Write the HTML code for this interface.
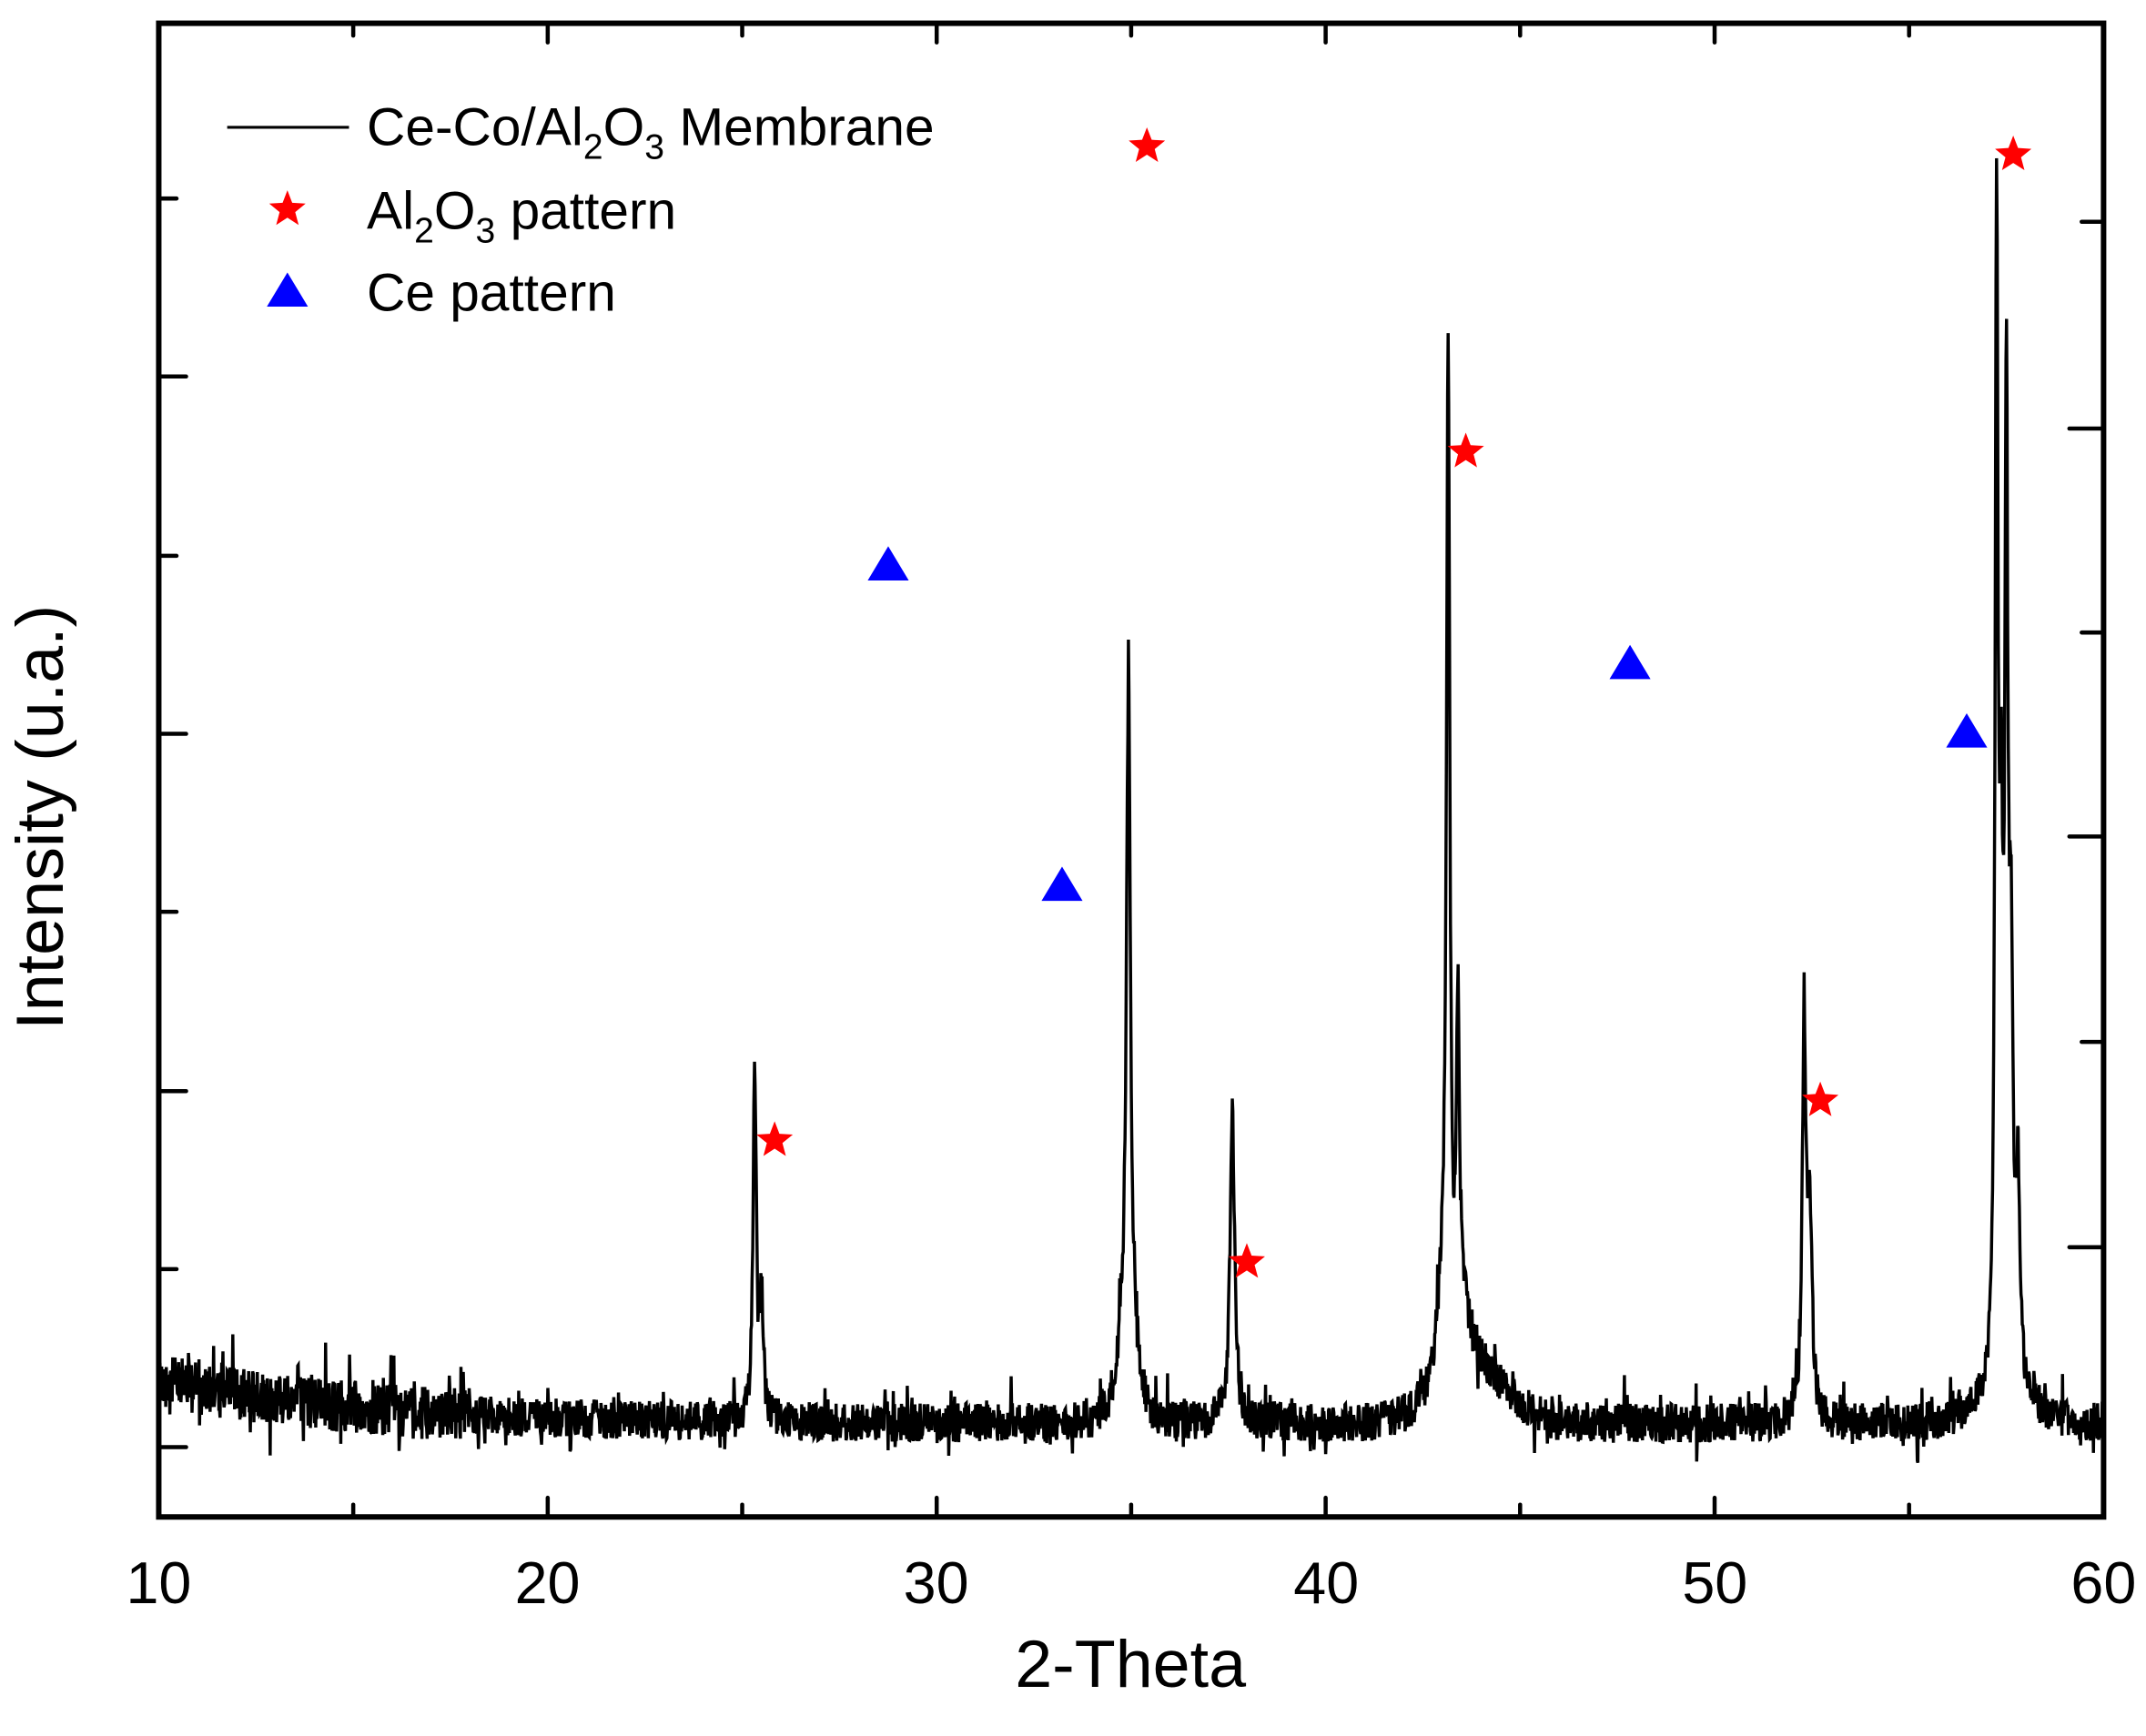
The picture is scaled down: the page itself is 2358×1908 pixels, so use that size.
<!DOCTYPE html>
<html><head><meta charset="utf-8"><style>
html,body{margin:0;padding:0;background:#fff;}
svg{display:block;}
text{font-family:"Liberation Sans",Arial,sans-serif;fill:#000;}
</style></head><body>
<svg id="s" width="2358" height="1908" viewBox="0 0 1568 1268" preserveAspectRatio="none" xmlns="http://www.w3.org/2000/svg">
<rect x="0" y="0" width="1568" height="1268" fill="#fff"/>
<path id="curve" d="" fill="none" stroke="#000" stroke-width="2.3" stroke-linejoin="miter"/>
<g id="ticks" stroke="#000" stroke-width="3" stroke-linecap="round"></g>
<rect x="116" y="17" width="1421" height="1091" fill="none" stroke="#000" stroke-width="4"/>
<g font-size="43" text-anchor="middle">
<text x="116" y="1171">10</text><text x="400" y="1171">20</text><text x="684" y="1171">30</text>
<text x="969" y="1171">40</text><text x="1253" y="1171">50</text><text x="1537" y="1171">60</text>
</g>
<text x="826" y="1232" font-size="49" text-anchor="middle">2-Theta</text>
<text x="0" y="0" font-size="49" text-anchor="middle" transform="translate(46,597) rotate(-90)">Intensity (u.a.)</text>
<line x1="166" y1="93" x2="255" y2="93" stroke="#000" stroke-width="2"/>
<text x="268" y="106" font-size="39">Ce-Co/Al<tspan font-size="26" dy="10">2</tspan><tspan dy="-10">O</tspan><tspan font-size="26" dy="10">3</tspan><tspan dy="-10"> Membrane</tspan></text>
<text x="268" y="167" font-size="39">Al<tspan font-size="26" dy="10">2</tspan><tspan dy="-10">O</tspan><tspan font-size="26" dy="10">3</tspan><tspan dy="-10"> pattern</tspan></text>
<text x="268" y="227" font-size="39">Ce pattern</text>
<g id="marks"></g>
</svg>
<script>
(function(){
var ns="http://www.w3.org/2000/svg";
function X(t){return 116+(t-10)*28.42;}
var seed=12345;function r(){seed=(seed*1103515245+12345)%2147483648;return seed/2147483648;}
var peaks=[[25.32,250,0.05],[25.5,90,0.05],[34.93,526,0.06],[34.75,50,0.12],[35.1,45,0.14],[37.6,236,0.07],
[43.15,729,0.05],[43.4,240,0.05],[43.0,60,0.14],[43.6,40,0.2],[52.3,272,0.06],[52.45,140,0.07],
[57.25,850,0.045],[57.5,675,0.045],[57.37,300,0.05],[57.62,280,0.06],[57.8,140,0.06]];
var d="";
for(var i=0;i<=3334;i++){
 var t=10+i*0.015;
 var b=1040-32*Math.exp(-(t-10)/5);
 b-=38*Math.exp(-Math.pow((t-43.8)/1.2,2));
 b-=15*Math.exp(-Math.pow((t-57.5)/1.0,2));
 var s=0;
 for(var k=0;k<peaks.length;k++){var p=peaks[k];var u=(t-p[0])/p[2];s+=p[1]/(1+u*u);}
 var amp=t<18?30:22;
 var n=(r()-0.5)*amp*1.3;
 if(r()<0.07)n-=(r())*amp*1.0;
 if(r()<0.04)n+=(r())*amp*0.8;
 var y=b-s+n;
 d+=(i?"L":"M")+X(t).toFixed(1)+" "+y.toFixed(1);
}
document.getElementById("curve").setAttribute("d",d);
var g=document.getElementById("ticks");
function L(x1,y1,x2,y2){var l=document.createElementNS(ns,"line");l.setAttribute("x1",x1);l.setAttribute("y1",y1);l.setAttribute("x2",x2);l.setAttribute("y2",y2);g.appendChild(l);}
for(var t=10;t<=60;t+=5){var x=X(t);var len=(t%10==0)?14:9;L(x,1108,x,1108-len);L(x,17,x,17+len);}
[1057,927,797,666,536,406,275,145].forEach(function(y,i){L(116,y,i%2==0?136:129,y);});
[911,761,611,462,313,162].forEach(function(y,i){L(1537,y,i%2==0?1512:1521,y);});
var m=document.getElementById("marks");
function star(cx,cy){var R=14,r2=6,pts=[];for(var i=0;i<10;i++){var a=-Math.PI/2+i*Math.PI/5;var rr=i%2?r2:R;pts.push((cx+rr*Math.cos(a)).toFixed(1)+","+(cy+rr*Math.sin(a)).toFixed(1));}
 var p=document.createElementNS(ns,"polygon");p.setAttribute("points",pts.join(" "));p.setAttribute("fill","#f00");m.appendChild(p);}
function tri(cx,cy){var p=document.createElementNS(ns,"polygon");p.setAttribute("points",(cx-15)+","+(cy+11)+" "+(cx+15)+","+(cy+11)+" "+cx+","+(cy-14));p.setAttribute("fill","#00f");m.appendChild(p);}
[[838,107],[1471,113],[1071,330],[566,833],[911,922],[1330,804],[210,153]].forEach(function(a){star(a[0],a[1]);});
[[649,413],[776,647],[1191,485],[1437,535],[210,213]].forEach(function(a){tri(a[0],a[1]);});
})();
</script>
</body></html>
